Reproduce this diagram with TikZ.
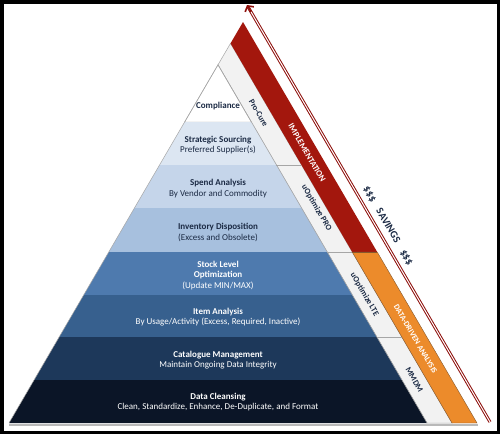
\documentclass[tikz,border=0pt]{standalone}
\usepackage{fontspec}
\setmainfont{Carlito}
\usetikzlibrary{arrows.meta,calc}
\definecolor{bandA}{HTML}{DCE6F2}
\definecolor{bandB}{HTML}{C5D5EA}
\definecolor{bandC}{HTML}{A7C0DE}
\definecolor{bandD}{HTML}{4E7AAE}
\definecolor{bandE}{HTML}{37608E}
\definecolor{bandF}{HTML}{1D385A}
\definecolor{bandG}{HTML}{0B1527}
\definecolor{colgray}{HTML}{F2F2F2}
\definecolor{impred}{HTML}{A3170D}
\definecolor{dataorange}{HTML}{EC8B2B}
\definecolor{arrowred}{HTML}{8E0F0B}
\definecolor{navytext}{HTML}{1B2A44}
\def\LX#1{9+0.5835*(423-#1)}
\def\RX#1#2{#1-0.5835*(423-#2)}
\tikzset{
  edgeline/.style={draw=gray!70, line width=0.5pt},
  bandtext/.style={align=center, inner sep=0pt, font=\fontsize{9}{10.5}\selectfont},
  darktext/.style={bandtext, text=navytext},
  lighttext/.style={bandtext, text=white},
  coltext/.style={inner sep=0pt, rotate=-59.8, text=navytext, font=\fontsize{8.3}{9}\selectfont\bfseries},
  stripetext/.style={inner sep=0pt, rotate=-59.8, text=white, font=\fontsize{8}{9}\selectfont\bfseries},
}
\begin{document}
\begin{tikzpicture}[x=1pt,y=-1pt]
\useasboundingbox (0,0) rectangle (500,434);
\fill[white] (0,0) rectangle (500,434);
% key points
\coordinate (apex) at (243,22);
\coordinate (colTop) at (230.5,43.4);
\coordinate (pyrTop) at (218,64.8);
\coordinate (baseL) at (9,423);
\coordinate (baseP) at (427,423);
\coordinate (baseC) at (452,423);
\coordinate (baseR) at (477,423);
% shadow
\draw[gray!55, line width=1.6pt] (9,424.8) -- (478,424.8);
% light grey column
\filldraw[fill=colgray, edgeline] (colTop) -- (baseC) -- (baseP) -- (pyrTop) -- cycle;
% red and orange stripes
\fill[impred] (apex) -- ({\RX{477}{252}},252) -- ({\RX{452}{252}},252) -- (colTop) -- cycle;
\filldraw[fill=dataorange, draw=brown!70!black, line width=0.4pt] ({\RX{452}{252}},252) -- ({\RX{477}{252}},252) -- (baseR) -- (baseC) -- cycle;
% compliance triangle
\filldraw[fill=white, edgeline] (pyrTop) -- ({\RX{427}{122}},122) -- ({\LX{122}},122) -- cycle;
% bands
\foreach \ya/\yb/\c in {122/165/bandA,165/208/bandB,208/252/bandC,252/295/bandD,295/337/bandE,337/380/bandF,380/423/bandG}{
  \fill[\c] ({\LX{\ya}},\ya) -- ({\RX{427}{\ya}},\ya) -- ({\RX{427}{\yb}},\yb) -- ({\LX{\yb}},\yb) -- cycle;
}
\draw[edgeline] (pyrTop) -- (baseL);
\draw[edgeline] (pyrTop) -- (baseP);
% column dividers
\foreach \yy in {165,252,337}{
  \draw[edgeline] ({\RX{427}{\yy}},\yy) -- ({\RX{452}{\yy}},\yy);
}
\draw[brown!70!black, line width=0.4pt] ({\RX{452}{252}},252) -- ({\RX{477}{252}},252);
% arrow
\coordinate (arrStart) at (490,422);
\coordinate (arrTip) at (247,5);
\coordinate (arrNeck) at ($(arrTip)!8pt!(arrStart)$);
\draw[arrowred, line width=1pt, double=white, double distance=1pt] (arrStart) -- ($(arrTip)!2pt!(arrStart)$);
\draw[arrowred, line width=1.6pt, -{Straight Barb[length=4pt,width=10pt]}] (arrNeck) -- (arrTip);
% pyramid texts
\node[darktext] (compliance) at (218,106) {\textbf{Compliance}};
\node[darktext] (strategic) at (218,145) {\textbf{Strategic Sourcing}\\Preferred Supplier(s)};
\node[darktext] (spend) at (218,188.5) {\textbf{Spend Analysis}\\By Vendor and Commodity};
\node[darktext] (inventory) at (218,232.5) {\textbf{Inventory Disposition}\\(Excess and Obsolete)};
\node[lighttext] (stock) at (218,275.5) {\textbf{Stock Level}\\\textbf{Optimization}\\(Update MIN/MAX)};
\node[lighttext] (item) at (218,317) {\textbf{Item Analysis}\\By Usage/Activity (Excess, Required, Inactive)};
\node[lighttext] (catalogue) at (218,360) {\textbf{Catalogue Management}\\Maintain Ongoing Data Integrity};
\node[lighttext] (cleansing) at (218,402) {\textbf{Data Cleansing}\\Clean, Standardize, Enhance, De-Duplicate, and Format};
% column texts
\node[coltext] (procure) at (258.5,113) {Pro-Cure};
\node[coltext] (uopro) at (316.6,208) {uOptimize PRO};
\node[coltext] (uolte) at (364.5,294.5) {uOptimize LTE};
\node[coltext] (mmdm) at (414.4,380) {MMDM};
\node[stripetext, font=\fontsize{8.6}{9}\selectfont\bfseries] (impl) at (307,153) {IMPLEMENTATION};
\node[stripetext] (dda) at (415.5,339) {DATA-DRIVEN ANALYSIS};
\node[inner sep=0pt, rotate=-59.8, text=navytext, font=\fontsize{10.5}{12}\selectfont\bfseries] (savings) at (388,226) {\$\$\$\hspace{0.9em}SAVINGS\hspace{0.9em}\$\$\$};
% frame
\draw[black, line width=3.5pt] (1.75,1.75) rectangle (498.25,432.25);
\end{tikzpicture}
\end{document}
